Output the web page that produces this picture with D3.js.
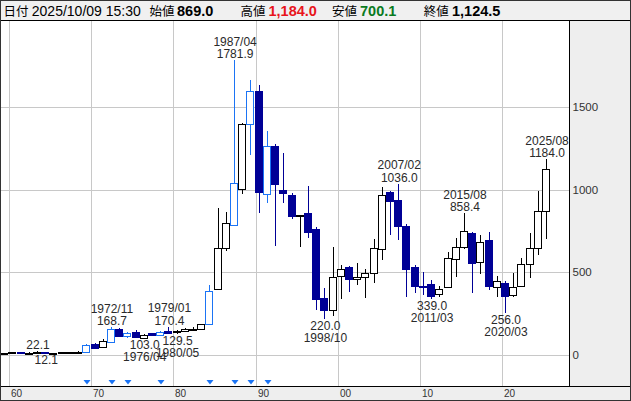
<!DOCTYPE html>
<html><head><meta charset="utf-8">
<script src="https://cdn.jsdelivr.net/npm/d3@7"></script>
<style>
html,body{margin:0;padding:0;background:#fff;}
svg{display:block;}
text{font-family:"Liberation Sans","Noto Sans CJK JP",Arial,sans-serif;}
</style></head>
<body>
<svg id="chart" width="631" height="401"></svg>
<script>
// ---------- data ----------
const years = d3.range(1958, 2026);
const open = [10,11,13,16,14,15,16,13,14,16,19,20,66,50,77,160,116,140,105,131,121,145,137,145,152,158,186,399,645,786,1002,1395,1596,973,1264,998,967,842,857,760,343,272,478,530,458,470,498,639,984,937,780,534,420,429,369,413,579,651,736,564,695,413,437,363,419,550,645,869];
const high = [12,14,18,20,18,22.1,17,15,17,20,22,68,70,95,168.7,165,140,151,124,135,146,170.4,152,162,168,190,423,887,863,1781.9,1405,1663,1632,1354,1275,1220,981,848,1022,776,403,651,544,540,554,518,701,1018,990,1036,790,545,504,453,419,625,705,858.4,745,725,746,478,445,498,584,740,993,1184];
const low = [9.5,10.5,12.5,13,12.5,14,12.1,12.5,13.5,15,18,18,42,48,75,110,105,104,103,117,119,130,129.5,140,148,155,183,393,629,780,973,1209,860,921,661,917,822,655,705,272,220,235,337,383,423,343,437,574,725,695,353,373,363,339,350,407,473,640,373,490,393,349,256,353,413,464,605,700.1];
const close = [11,13,16,14,15,16,13,14,16,19,21,58,44,85,160,115,134,106,120,120,140,132,147,155,160,186,387,645,796,1038,1395,1596,987,1264,1032,978,842,846,746,339,272,470,518,458,473,494,645,967,931,782,518,419,418,359,397,584,655,750,558,681,419,449,359,413,548,645,871,1124.5];
// years marked with a triangle (drawn in blue)
const markYears = [1969,1972,1974,1978,1984,1987,1989,1991];
// annotations
const hiLabYears = [1963,1972,1979,1987,2007,2015,2025];
const hiLabDates = ["","1972/11","1979/01","1987/04","2007/02","2015/08","2025/08"];
const hiLabVals  = [22.1,168.7,170.4,1781.9,1036.0,858.4,1184.0];
const loLabYears = [1964,1976,1980,1998,2011,2020];
const loLabDates = ["","1976/04","1980/05","1998/10","2011/03","2020/03"];
const loLabVals  = [12.1,103.0,129.5,220.0,339.0,256.0];
const yTicks = [0,500,1000,1500];
const xTicks = [1960,1970,1980,1990,2000,2010,2020];
const xTickLabels = ["60","70","80","90","00","10","20"];
const headerDate = "2025/10/09 15:30";

// ---------- layout ----------
const W = 631, H = 401;
const plotL = 1, plotR = 569, plotT = 21, plotB = 386;
const NAVY = "#000096", BLUE = "#1b74f5", GRID = "#c8c8c8";

const svg = d3.select("#chart");
const x = d3.scaleLinear().domain([1960, 2020]).range([9.3, 501.9]);
const y = d3.scaleLinear().domain([0, 1500]).range([355, 106.9]);

// backgrounds
svg.append("rect").attr("x",0).attr("y",0).attr("width",W).attr("height",H).attr("fill","#fff");
svg.append("rect").attr("x",0).attr("y",0).attr("width",W).attr("height",plotT).attr("fill","#f0f0f0");
svg.append("rect").attr("x",plotR).attr("y",plotT).attr("width",W-plotR).attr("height",plotB-plotT).attr("fill","#eeeeee");
svg.append("rect").attr("x",0).attr("y",plotB).attr("width",W).attr("height",H-plotB).attr("fill","#eeeeee");

// clip
svg.append("clipPath").attr("id","clip").append("rect")
  .attr("x",plotL).attr("y",plotT).attr("width",plotR-plotL).attr("height",plotB-plotT);

const g = svg.append("g").attr("clip-path","url(#clip)");

// gridlines
g.selectAll(".vg").data(xTicks).join("line")
  .attr("x1",d=>Math.round(x(d))+0.5).attr("x2",d=>Math.round(x(d))+0.5)
  .attr("y1",plotT).attr("y2",plotB).attr("stroke",GRID).attr("stroke-width",1);
g.selectAll(".hg").data(yTicks).join("line")
  .attr("x1",plotL).attr("x2",plotR)
  .attr("y1",d=>Math.round(y(d))+0.5).attr("y2",d=>Math.round(y(d))+0.5)
  .attr("stroke",GRID).attr("stroke-width",1);

// candles
const data = years.map((yr,i)=>({yr,o:open[i],h:high[i],l:low[i],c:close[i],mark:markYears.includes(yr)}));
const col = d => d.mark ? BLUE : (d.c < d.o ? NAVY : "#000");
const cxOf = d => Math.round(x(d.yr + 0.5));

g.selectAll(".wick").data(data).join("line")
  .attr("x1",d=>cxOf(d)-0.5).attr("x2",d=>cxOf(d)-0.5)
  .attr("y1",d=>Math.round(y(d.h))).attr("y2",d=>Math.round(y(d.l)))
  .attr("stroke",col).attr("stroke-width",1);

g.selectAll(".body").data(data).join("rect")
  .attr("x",d=>cxOf(d)-4.5)
  .attr("width",7)
  .attr("y",d=>Math.round(y(Math.max(d.o,d.c)))+0.5)
  .attr("height",d=>Math.max(1, Math.round(y(Math.min(d.o,d.c))) - Math.round(y(Math.max(d.o,d.c)))))
  .attr("fill",d=> (d.c < d.o && !d.mark) ? NAVY : "#fff")
  .attr("stroke",col).attr("stroke-width",1);

// annotations
const labCol = "#2a2a2a";
const hiData = hiLabYears.map((yr,i)=>({yr,date:hiLabDates[i],v:hiLabVals[i]}));
const loData = loLabYears.map((yr,i)=>({yr,date:loLabDates[i],v:loLabVals[i]}));
const ann = svg.append("g").attr("font-size",12).attr("fill",labCol).attr("text-anchor","middle");
hiData.forEach(d=>{
  const cx = x(d.yr+0.5), yy = y(d.v);
  ann.append("text").attr("x",cx).attr("y",yy-2).text(d.v.toFixed(1));
  if (d.date) ann.append("text").attr("x",cx).attr("y",yy-14.5).text(d.date);
});
loData.forEach(d=>{
  const cx = x(d.yr+0.5), yy = y(d.v);
  ann.append("text").attr("x",cx).attr("y",yy+11.5).text(d.v.toFixed(1));
  if (d.date) ann.append("text").attr("x",cx).attr("y",yy+23.5).text(d.date);
});

// triangles
svg.selectAll(".tri").data(markYears).join("path")
  .attr("d",d=>{const cx=Math.round(x(d+0.5)); return `M${cx-3.5},380 L${cx+3.5},380 L${cx},384.5 Z`;})
  .attr("fill",BLUE);

// right axis
const ra = svg.append("g").attr("font-size",11.5).attr("fill","#333");
ra.selectAll("text").data(yTicks).join("text")
  .attr("x",plotR+3.5).attr("y",d=>y(d)).attr("dy","0.35em").text(d=>d);

// bottom axis
const ba = svg.append("g").attr("font-size",10).attr("fill","#333");
ba.selectAll("text").data(xTicks).join("text")
  .attr("x",d=>Math.round(x(d))+2).attr("y",397.3).text((d,i)=>xTickLabels[i]);

// borders
svg.append("line").attr("x1",0).attr("x2",W).attr("y1",plotT-0.5).attr("y2",plotT-0.5).attr("stroke","#000");
svg.append("line").attr("x1",0).attr("x2",W).attr("y1",plotB+0.5).attr("y2",plotB+0.5).attr("stroke","#000");
svg.append("line").attr("x1",plotR+0.5).attr("x2",plotR+0.5).attr("y1",plotT).attr("y2",plotB).attr("stroke","#000");
svg.append("rect").attr("x",0.5).attr("y",0.5).attr("width",W-1).attr("height",H-1).attr("fill","none").attr("stroke","#333");

// header
const last = data[data.length-1];
const f = d3.format(",.1f");
const hdr = svg.append("g");
const items = [
  {x:3.5, t:"日付", w:"normal", c:"#000", s:12.5},
  {x:31.8, t:headerDate, w:"normal", c:"#000", s:14},
  {x:149.5, t:"始値", w:"normal", c:"#000", s:12.5},
  {x:177, t:f(last.o), w:"bold", c:"#000", s:14.5},
  {x:240.5, t:"高値", w:"normal", c:"#000", s:12.5},
  {x:268.5, t:f(last.h), w:"bold", c:"#e8141b", s:14.5},
  {x:332, t:"安値", w:"normal", c:"#000", s:12.5},
  {x:360, t:f(last.l), w:"bold", c:"#0a7a1e", s:14.5},
  {x:423.8, t:"終値", w:"normal", c:"#000", s:12.5},
  {x:452, t:f(last.c), w:"bold", c:"#000", s:14.5}
];
hdr.selectAll("text").data(items).join("text")
  .attr("x",d=>d.x).attr("y",16).attr("font-size",d=>d.s)
  .attr("font-weight",d=>d.w).attr("fill",d=>d.c).text(d=>d.t);
</script>
</body></html>
